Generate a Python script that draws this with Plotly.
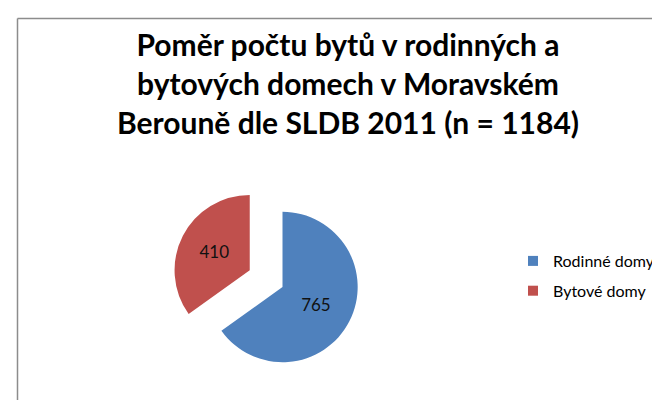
import plotly.graph_objects as go

title_lines = ["Poměr počtu bytů v rodinných a",
               "bytových domech v Moravském",
               "Berouně dle SLDB 2011 (n = 1184)"]
labels = ["Rodinné domy", "Bytové domy"]
values = [765, 410]
colors = ["#4F81BD", "#C0504D"]
pulls = [0, 0.49]

W, H = 660, 400
FONT = "Lato"

# pie box geometry (pixels)
cx, cy_top, half = 274.5, 279, 112
cy = H - cy_top

fig = go.Figure()
fig.add_trace(go.Pie(
    labels=labels, values=values, sort=False, direction="clockwise", rotation=0,
    marker=dict(colors=colors, line=dict(width=0)), pull=pulls,
    textinfo="value", textposition="inside", insidetextorientation="horizontal",
    textfont=dict(family=FONT, size=17, color="#111111"),
    domain=dict(x=[(cx - half) / W, (cx + half) / W], y=[(cy - half) / H, (cy + half) / H]),
    showlegend=False, hoverinfo="label+value+percent",
))
for lab, col in zip(labels, colors):
    fig.add_trace(go.Scatter(
        x=[None], y=[None], mode="markers", name=lab, legendgroup=lab,
        marker=dict(symbol="square", size=10, color=col), hoverinfo="skip",
    ))

fig.update_layout(
    width=W, height=H, autosize=False,
    margin=dict(l=0, r=0, t=0, b=0),
    paper_bgcolor="white", plot_bgcolor="white",
    xaxis=dict(visible=False), yaxis=dict(visible=False),
    title=dict(text="<br>".join(title_lines), x=340 / W, xanchor="center",
               y=1 - 48 / H, yanchor="top", yref="container",
               font=dict(family=FONT, size=30, color="#000000", weight="bold")),
    legend=dict(x=505 / W, y=1 - 236 / H, xanchor="left", yanchor="top",
                font=dict(family=FONT, size=16, color="#000000"),
                tracegroupgap=6, bgcolor="rgba(0,0,0,0)"),
    shapes=[
        dict(type="line", xref="paper", yref="paper", x0=9.5 / W, x1=1, y0=1 - 10.5 / H, y1=1 - 10.5 / H,
             line=dict(color="#8c8c8c", width=1.5)),
        dict(type="line", xref="paper", yref="paper", x0=9.5 / W, x1=9.5 / W, y0=0, y1=1 - 10.5 / H,
             line=dict(color="#8c8c8c", width=1.5)),
    ],
)

fig.write_html("out.html")
